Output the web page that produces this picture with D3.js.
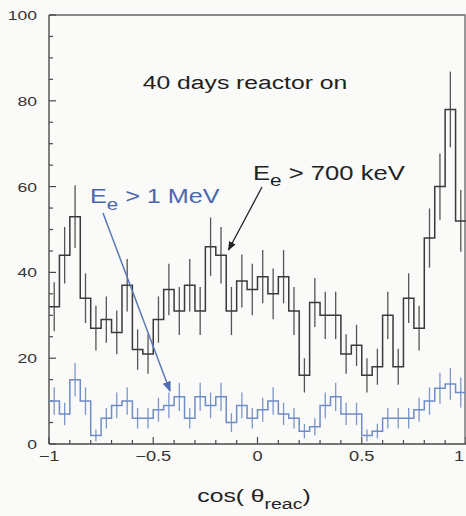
<!DOCTYPE html>
<html><head><meta charset="utf-8">
<script src="https://cdn.jsdelivr.net/npm/d3@7/dist/d3.min.js"></script>
<style>html,body{margin:0;padding:0;background:#fafaf8;}svg{display:block;}</style>
</head><body>
<script>
// ---- data ----
const binEdgesStart = -1, binWidth = 0.05;
const black700keV = [32,44,53,34,27,29,26,37,22,21,29,36,31,37,31,46,44,31,38,36,39,35,39,31,16,33,30,30,21,23,16,18,30,18,34,27,48,60,78,52];
const black700keVErr = [5.7,6.6,7.3,5.8,5.2,5.4,5.1,6.1,4.7,4.6,5.4,6.0,5.6,6.1,5.6,6.8,6.6,5.6,6.2,6.0,6.2,5.9,6.2,5.6,4.0,5.7,5.5,5.5,4.6,4.8,4.0,4.2,5.5,4.2,5.8,5.2,6.9,7.7,8.8,7.2];
const blue1MeV = [10,7,15,10,2,6,9,10,6,6,8,9,11,6,11,9,11,5,9,6,8,10,7,6,3,4,9,11,7,7,2,3,6,6,6,8,10,13,14,12];
const blue1MeVErr = [3.2,2.6,3.9,3.2,1.4,2.4,3.0,3.2,2.4,2.4,2.8,3.0,3.3,2.4,3.3,3.0,3.3,2.2,3.0,2.4,2.8,3.2,2.6,2.4,1.7,2.0,3.0,3.3,2.6,2.6,1.4,1.7,2.4,2.4,2.4,2.8,3.2,3.6,3.7,3.5];
const xTickLabels = [-1,-0.5,0,0.5,1];
const yTickLabels = [0,20,40,60,80,100];

const W = 466, H = 516;
const svg = d3.select("body").append("svg").attr("width", W).attr("height", H);
svg.append("rect").attr("width", W).attr("height", H).attr("fill", "#fafaf8");

const x = d3.scaleLinear().domain([-1, 1]).range([49, 466]);
const y = d3.scaleLinear().domain([0, 100]).range([444, 15]);
const FONT = "'Liberation Sans', Arial, Helvetica, sans-serif";
const SX = 1.3;

function stretchedText(px, py, anchor, size, color, sx) {
  return svg.append("text")
    .attr("transform", `translate(${px},${py}) scale(${sx},1)`)
    .attr("text-anchor", anchor)
    .attr("font-family", FONT)
    .attr("font-size", size)
    .attr("fill", color);
}

// frame
const axisColor = "#4a4a4a";
svg.append("path")
  .attr("d", `M${x(-1)},${y(100)}H${x(1)-1}V${y(0)}`)
  .attr("fill", "none").attr("stroke", "#666").attr("stroke-width", 1.3);

// axes lines
svg.append("line").attr("x1", x(-1)).attr("x2", x(1)).attr("y1", y(0)).attr("y2", y(0))
  .attr("stroke", axisColor).attr("stroke-width", 1.6);
svg.append("line").attr("x1", x(-1)).attr("x2", x(-1)).attr("y1", y(0)).attr("y2", y(100))
  .attr("stroke", axisColor).attr("stroke-width", 1.4);

// y ticks (minor every 5, major every 20)
d3.range(0, 101, 5).forEach(v => {
  const major = v % 20 === 0;
  svg.append("line").attr("x1", x(-1)).attr("x2", x(-1) + (major ? 7 : 4))
    .attr("y1", y(v)).attr("y2", y(v)).attr("stroke", axisColor).attr("stroke-width", 1.2);
});
yTickLabels.forEach(v => {
  stretchedText(37, y(v) + 5, "end", 13.5, "#333", SX).text(v);
});

// x ticks (minor every 0.1, major every 0.5)
d3.range(-10, 11, 1).forEach(k => {
  const v = k / 10;
  const major = k % 5 === 0;
  svg.append("line").attr("x1", x(v)).attr("x2", x(v))
    .attr("y1", y(0)).attr("y2", y(0) - (major ? 7 : 4)).attr("stroke", axisColor).attr("stroke-width", 1.2);
});
xTickLabels.forEach(v => {
  const lbl = v < 0 ? "\u2212" + Math.abs(v) : String(v);
  const px = Math.min(x(v), 459);
  stretchedText(px, 461, "middle", 14, "#333", SX).text(lbl);
});

// axis title
{
  const t = stretchedText(254, 502, "middle", 19, "#222", SX);
  t.append("tspan").text("cos( \u03B8");
  t.append("tspan").attr("dy", 7).attr("font-size", 15).text("reac");
  t.append("tspan").attr("dy", -7).text(")");
}

// histograms
function stepPath(vals) {
  let d = "";
  vals.forEach((v, i) => {
    const x0 = x(binEdgesStart + i * binWidth), x1 = x(binEdgesStart + (i + 1) * binWidth);
    d += (i === 0 ? `M${x0},${y(v)}` : `V${y(v)}`) + `H${x1}`;
  });
  return d;
}
function drawHist(vals, errs, color, errColor) {
  const g = svg.append("g");
  g.selectAll("line").data(vals).join("line")
    .attr("x1", (d, i) => x(binEdgesStart + (i + 0.5) * binWidth))
    .attr("x2", (d, i) => x(binEdgesStart + (i + 0.5) * binWidth))
    .attr("y1", (d, i) => y(d - errs[i]))
    .attr("y2", (d, i) => y(d + errs[i]))
    .attr("stroke", errColor).attr("stroke-width", 1.3);
  g.append("path").attr("d", stepPath(vals)).attr("fill", "none")
    .attr("stroke", color).attr("stroke-width", 1.5);
}
drawHist(black700keV, black700keVErr, "#3a3a3a", "#555");
drawHist(blue1MeV, blue1MeVErr, "#6f8cc6", "#7d97cc");

// title text
stretchedText(245, 89, "middle", 19, "#1e1e1e", SX).text("40 days reactor on");

// labels
{
  const t = stretchedText(253, 180, "start", 21, "#222", 1.22);
  t.append("tspan").text("E");
  t.append("tspan").attr("dy", 6).attr("font-size", 17).text("e");
  t.append("tspan").attr("dy", -6).text(" > 700 keV");
}
{
  const t = stretchedText(90, 203, "start", 21, "#4a66ae", 1.2);
  t.append("tspan").text("E");
  t.append("tspan").attr("dy", 7).attr("font-size", 17).text("e");
  t.append("tspan").attr("dy", -7).text(" > 1 MeV");
}

// arrows
const defs = svg.append("defs");
[["ab", "#222"], ["au", "#4f6db0"]].forEach(([id, c]) => {
  defs.append("marker").attr("id", id).attr("viewBox", "0 0 10 10").attr("refX", 9).attr("refY", 5)
    .attr("markerWidth", 7).attr("markerHeight", 7).attr("orient", "auto")
    .append("path").attr("d", "M0,1L10,5L0,9z").attr("fill", c);
});
svg.append("line").attr("x1", 262).attr("y1", 187).attr("x2", 228.5).attr("y2", 250)
  .attr("stroke", "#222").attr("stroke-width", 1.3).attr("marker-end", "url(#ab)");
svg.append("line").attr("x1", 103).attr("y1", 213).attr("x2", 170).attr("y2", 391)
  .attr("stroke", "#5a78b8").attr("stroke-width", 1.5).attr("marker-end", "url(#au)");
</script>
</body></html>
